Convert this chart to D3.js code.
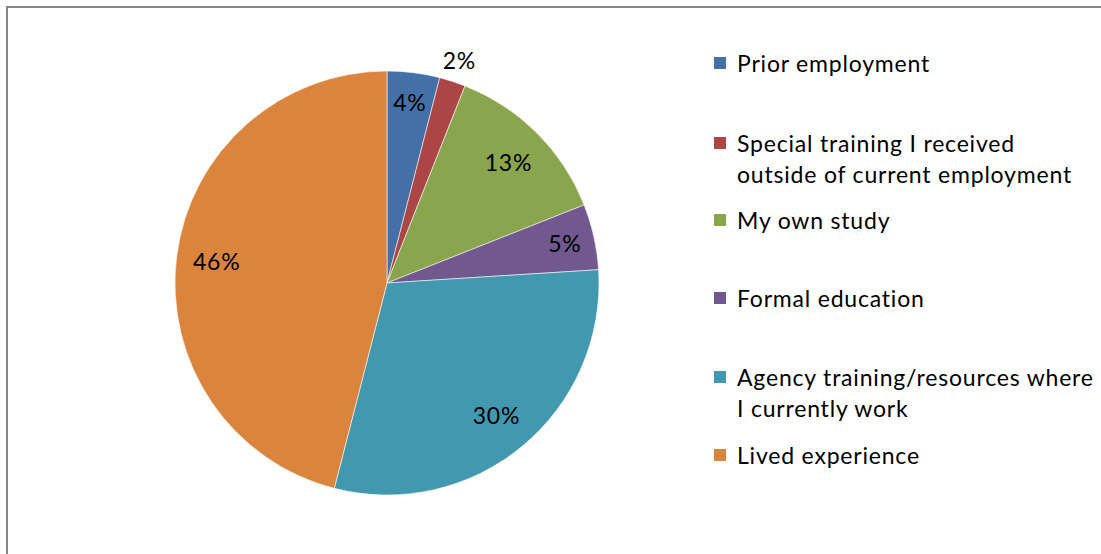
<!DOCTYPE html>
<html>
<head>
<meta charset="utf-8">
<script src="https://cdn.jsdelivr.net/npm/d3@7"></script>
<style>
  html, body { margin: 0; padding: 0; background: #fff; }
  svg { display: block; }
  text { font-family: Lato, "Open Sans", sans-serif; fill: #000; letter-spacing: 0.8px; }
</style>
</head>
<body>
<svg id="chart" width="1101" height="554"></svg>
<script>
// Sources of knowledge, share of respondents (%)
const categories = [
  "Prior employment",
  "Special training I received outside of current employment",
  "My own study",
  "Formal education",
  "Agency training/resources where I currently work",
  "Lived experience"
];
const values = [4, 2, 13, 5, 30, 46];
const legendLines = [
  ["Prior employment"],
  ["Special training I received", "outside of current employment"],
  ["My own study"],
  ["Formal education"],
  ["Agency training/resources where", "I currently work"],
  ["Lived experience"]
];
const colors = ["#4470A8", "#AA4643", "#89A54E", "#71588F", "#4198AF", "#DB843D"];

const svg = d3.select("#chart");
const W = 1101, H = 554;

// outer chart frame
svg.append("rect")
  .attr("x", 7).attr("y", 7)
  .attr("width", W + 20).attr("height", H + 20)
  .attr("fill", "#fff")
  .attr("stroke", "#868686")
  .attr("stroke-width", 2);

const cx = 387, cy = 283, r = 212;
const fontSize = 23;

const data = categories.map((c, i) => ({ name: c, value: values[i], color: colors[i] }));
const pie = d3.pie().value(d => d.value).sort(null);
const arcs = pie(data);
const arc = d3.arc().innerRadius(0).outerRadius(r);

const g = svg.append("g").attr("transform", `translate(${cx},${cy})`);

g.selectAll("path.slice")
  .data(arcs)
  .join("path")
  .attr("class", "slice")
  .attr("d", arc)
  .attr("fill", d => d.data.color)
  .attr("stroke", "#fff")
  .attr("stroke-width", 0.8)
  .attr("stroke-opacity", 0.7);

// labels: inside for regular slices, nudged outward for narrow ones, outside for tiny ones
const total = d3.sum(values);
function labelRadius(d) {
  const share = d.data.value / total;
  if (share < 0.03) return r * 1.105;
  if (share < 0.06) return r * 0.86;
  return r * 0.81;
}
g.selectAll("text.pct")
  .data(arcs)
  .join("text")
  .attr("class", "pct")
  .attr("x", d => Math.sin((d.startAngle + d.endAngle) / 2) * labelRadius(d))
  .attr("y", d => -Math.cos((d.startAngle + d.endAngle) / 2) * labelRadius(d))
  .attr("text-anchor", "middle")
  .attr("dominant-baseline", "central")
  .attr("font-size", fontSize)
  .text(d => Math.round(d.data.value / total * 100) + "%");

// legend
const legendY = [63, 143, 220, 298, 377, 455];
const lineGap = 31;
const lg = svg.append("g");
legendLines.forEach((lines, i) => {
  const item = lg.append("g");
  item.append("rect")
    .attr("x", 714).attr("y", legendY[i] - 6)
    .attr("width", 12).attr("height", 12)
    .attr("fill", colors[i]);
  lines.forEach((t, j) => {
    item.append("text")
      .attr("x", 737)
      .attr("y", legendY[i] + j * lineGap)
      .attr("dominant-baseline", "central")
      .attr("font-size", fontSize)
      .text(t);
  });
});
</script>
</body>
</html>
